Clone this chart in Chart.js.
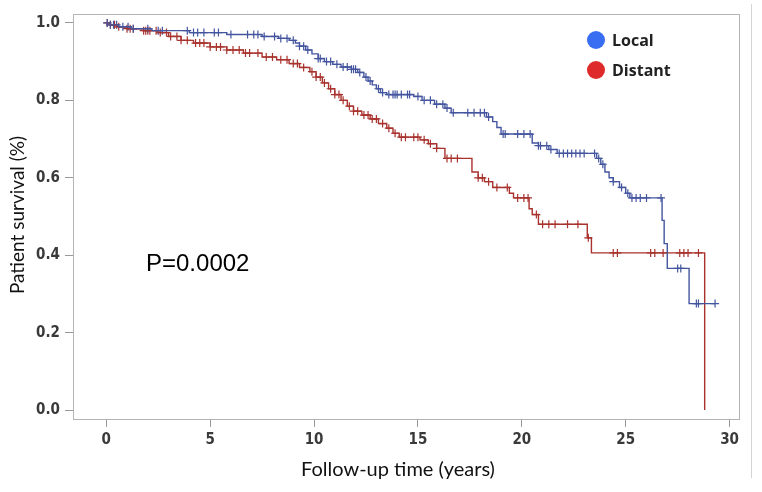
<!DOCTYPE html>
<html>
<head>
<meta charset="utf-8">
<script src="https://cdn.jsdelivr.net/npm/chart.js@4.4.1/dist/chart.umd.min.js"></script>
<style>
  html, body { margin: 0; padding: 0; background: #fff; }
  #km { display: block; }
</style>
</head>
<body>
<canvas id="km" width="762" height="492"></canvas>
<script>
const seriesNames = ['Local', 'Distant'];

// event times (years) and survival after each event
const localTime = [0, 0.2, 0.6, 1.2, 2.2, 4.0, 5.8, 7.5, 8.3, 8.8, 9.1, 9.3, 9.6, 9.9, 10.2, 10.5, 10.9, 11.3, 11.8, 12.1, 12.4, 12.6, 12.8, 13.0, 13.2, 13.5, 14.8, 15.2, 15.8, 16.3, 16.6, 18.3, 18.6, 18.8, 19.0, 20.5, 20.8, 21.3, 21.7, 23.6, 23.8, 24.0, 24.2, 24.4, 24.7, 25.0, 25.2, 26.75, 26.85, 27.0, 28.05, 29.3];
const localSurv = [1.0, 0.995, 0.99, 0.985, 0.98, 0.975, 0.97, 0.965, 0.96, 0.955, 0.948, 0.94, 0.93, 0.92, 0.908, 0.9, 0.893, 0.886, 0.88, 0.872, 0.86, 0.85, 0.84, 0.83, 0.82, 0.815, 0.81, 0.8, 0.79, 0.78, 0.768, 0.757, 0.745, 0.73, 0.713, 0.69, 0.683, 0.673, 0.663, 0.65, 0.635, 0.615, 0.6, 0.59, 0.575, 0.56, 0.548, 0.49, 0.43, 0.366, 0.275, 0.275];
const localCensor = [0.05, 0.2, 0.35, 0.5, 0.8, 1.05, 1.3, 2.0, 2.5, 2.7, 3.9, 4.2, 4.4, 4.7, 5.2, 5.4, 6.0, 6.8, 7.1, 7.3, 7.6, 8.1, 8.4, 8.7, 9.0, 9.3, 9.5, 9.7, 10.2, 10.3, 10.6, 10.8, 11.1, 11.4, 11.6, 11.8, 11.9, 12.0, 12.2, 12.5, 12.7, 13.1, 13.3, 13.6, 13.8, 13.9, 14.0, 14.2, 14.5, 14.6, 15.0, 15.3, 15.6, 15.9, 16.2, 16.4, 16.7, 17.4, 17.7, 18.0, 18.2, 18.4, 19.1, 19.2, 19.8, 20.1, 20.4, 20.8, 20.9, 21.2, 21.4, 21.8, 22.0, 22.2, 22.4, 22.6, 22.8, 23.0, 23.5, 23.7, 23.9, 24.4, 24.8, 25.1, 25.3, 25.5, 25.7, 26.0, 26.7, 27.5, 27.65, 28.4, 28.5, 29.3];

const distantTime = [0, 0.2, 0.5, 1.0, 1.8, 2.5, 3.0, 3.6, 4.2, 5.0, 5.8, 6.6, 7.5, 8.2, 8.8, 9.3, 9.8, 10.1, 10.4, 10.7, 11.0, 11.3, 11.6, 11.9, 12.3, 12.7, 13.1, 13.5, 13.8, 14.1, 15.1, 15.5, 15.9, 16.3, 17.6, 17.9, 18.2, 18.6, 19.4, 19.6, 20.35, 20.5, 20.8, 23.15, 23.35, 28.8];
const distantSurv = [1.0, 0.995, 0.99, 0.985, 0.98, 0.975, 0.965, 0.955, 0.948, 0.938, 0.93, 0.922, 0.912, 0.905, 0.895, 0.885, 0.874, 0.86, 0.845, 0.83, 0.815, 0.8, 0.785, 0.772, 0.762, 0.752, 0.74, 0.728, 0.715, 0.705, 0.698, 0.688, 0.676, 0.65, 0.615, 0.6, 0.59, 0.575, 0.56, 0.548, 0.52, 0.505, 0.48, 0.445, 0.406, 0.0];
const distantCensor = [0.05, 0.2, 0.4, 0.6, 1.0, 1.15, 1.3, 1.8, 1.9, 2.0, 2.1, 2.4, 2.6, 2.9, 3.1, 3.4, 3.6, 3.9, 4.3, 4.5, 4.7, 5.0, 5.3, 5.5, 5.8, 6.1, 6.4, 6.7, 6.9, 7.3, 7.7, 8.0, 8.4, 8.7, 9.0, 9.2, 9.5, 9.9, 10.1, 10.3, 10.5, 10.8, 11.0, 11.2, 11.4, 11.7, 11.9, 12.1, 12.4, 12.6, 12.8, 13.0, 13.3, 13.6, 13.9, 14.2, 14.4, 14.8, 15.0, 15.3, 15.6, 15.9, 16.4, 16.6, 16.9, 17.9, 18.1, 18.4, 18.8, 19.3, 19.8, 20.1, 20.3, 20.7, 21.0, 21.3, 21.6, 22.2, 22.7, 23.2, 24.4, 24.6, 26.2, 26.4, 26.8, 27.6, 27.8, 28.0, 28.5];

const xTicks = [0, 5, 10, 15, 20, 25, 30];
const yTicks = [0.0, 0.2, 0.4, 0.6, 0.8, 1.0];

const lineColors = ['#44559f', '#a8322d'];
const dotColors  = ['#3a6ef2', '#de2a2a'];

function stepPoints(times, surv) {
  return times.map((t, i) => ({ x: t, y: surv[i] }));
}

// survival value the curve holds at time t
function survAt(times, surv, t) {
  let s = surv[0];
  for (let i = 0; i < times.length; i++) {
    if (times[i] <= t) s = surv[i];
    else break;
  }
  return s;
}

function censorPoints(times, surv, cens) {
  return cens.map(t => ({ x: t, y: survAt(times, surv, t) }));
}

const overlayPlugin = {
  id: 'overlay',
  afterDraw(chart) {
    const { ctx, chartArea: { top, bottom, left, right } } = chart;
    ctx.save();
    // plot frame
    ctx.strokeStyle = '#b4b4b4';
    ctx.lineWidth = 1;
    ctx.strokeRect(left + 0.5, top + 0.5, right - left - 1, bottom - top);
    // outer right rule
    ctx.strokeStyle = '#d4d4d4';
    ctx.beginPath();
    ctx.moveTo(751.5, 4);
    ctx.lineTo(751.5, 478);
    ctx.stroke();

    // axis titles
    ctx.fillStyle = '#111';
    ctx.textAlign = 'center';
    ctx.textBaseline = 'middle';
    ctx.font = "20px Lato, 'Open Sans', sans-serif";
    ctx.fillText('Follow-up time (years)', 398, 470);
    ctx.save();
    ctx.translate(18, 215);
    ctx.rotate(-Math.PI / 2);
    ctx.font = "19px Lato, 'Open Sans', sans-serif";
    ctx.fillText('Patient survival (%)', 0, 0);
    ctx.restore();

    // p value
    ctx.textAlign = 'left';
    ctx.font = "24px 'Liberation Sans', Arial, sans-serif";
    ctx.fillStyle = '#000';
    ctx.fillText('P=0.0002', 146, 264);

    // legend
    ctx.font = "bold 16px 'Open Sans', sans-serif";
    seriesNames.forEach((name, i) => {
      const cy = 40 + i * 30;
      ctx.fillStyle = dotColors[i];
      ctx.beginPath();
      ctx.arc(596, cy, 9, 0, Math.PI * 2);
      ctx.fill();
      ctx.fillStyle = '#222';
      ctx.fillText(name, 612, cy + 1);
    });
    ctx.restore();
  }
};

const tickFont = { family: "'Liberation Sans Narrow', 'DejaVu Sans Condensed', sans-serif", size: 15, weight: 'bold' };

new Chart(document.getElementById('km'), {
  type: 'line',
  data: {
    datasets: [
      {
        label: 'Local',
        data: stepPoints(localTime, localSurv),
        stepped: 'before',
        borderColor: lineColors[0],
        borderWidth: 1.4,
        pointRadius: 0,
        fill: false
      },
      {
        label: 'Distant',
        data: stepPoints(distantTime, distantSurv),
        stepped: 'before',
        borderColor: lineColors[1],
        borderWidth: 1.4,
        pointRadius: 0,
        fill: false
      },
      {
        label: 'Local censored',
        data: censorPoints(localTime, localSurv, localCensor),
        showLine: false,
        pointStyle: 'cross',
        pointRadius: 4,
        pointBorderWidth: 1.2,
        pointBorderColor: lineColors[0]
      },
      {
        label: 'Distant censored',
        data: censorPoints(distantTime, distantSurv, distantCensor),
        showLine: false,
        pointStyle: 'cross',
        pointRadius: 4,
        pointBorderWidth: 1.2,
        pointBorderColor: lineColors[1]
      }
    ]
  },
  options: {
    responsive: false,
    animation: false,
    devicePixelRatio: 1,
    layout: { padding: { top: 12, right: 22, left: 0, bottom: 0 } },
    plugins: {
      legend: { display: false },
      tooltip: { enabled: false }
    },
    scales: {
      x: {
        type: 'linear',
        min: -1.6,
        max: 30.5,
        afterBuildTicks: s => { s.ticks = xTicks.map(v => ({ value: v })); },
        afterFit: s => { s.height = 73; },
        grid: { drawOnChartArea: false, tickLength: 8, color: '#9a9a9a' },
        border: { display: false },
        ticks: { padding: 4, color: '#3a3a3a', font: tickFont, callback: v => v }
      },
      y: {
        min: -0.023,
        max: 1.023,
        afterBuildTicks: s => { s.ticks = yTicks.map(v => ({ value: v })); },
        afterFit: s => { s.width = 73; },
        grid: { drawOnChartArea: false, tickLength: 8, color: '#9a9a9a' },
        border: { display: false },
        ticks: { padding: 5, color: '#3a3a3a', font: tickFont, callback: v => v.toFixed(1) }
      }
    }
  },
  plugins: [overlayPlugin]
});
</script>
</body>
</html>
